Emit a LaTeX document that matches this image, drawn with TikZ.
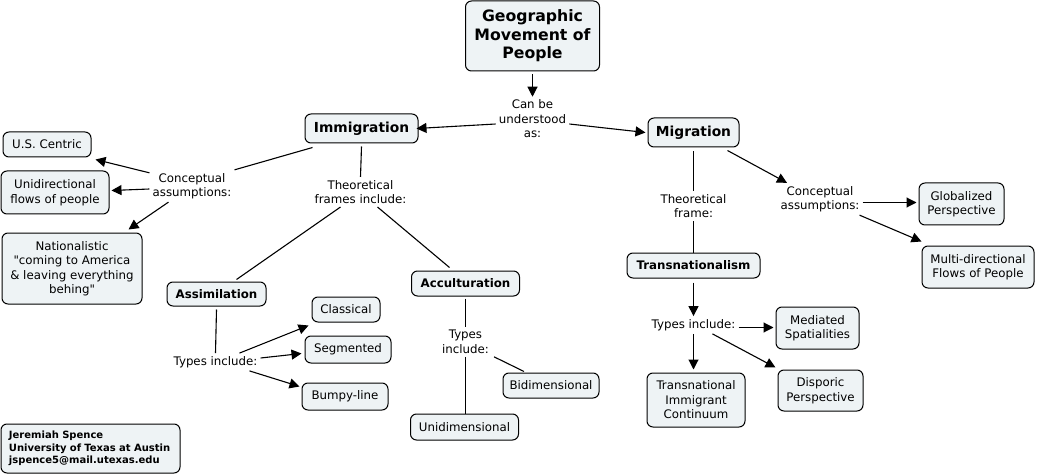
\documentclass[tikz,border=0pt]{standalone}
\usepackage{fontspec}
\setmainfont{DejaVu Sans}[Ligatures=TeXOff]
\usetikzlibrary{arrows.meta}
\definecolor{boxfill}{HTML}{EEF3F5}
\newcommand\fsn{\fontsize{11.8}{14.5}\selectfont}
\newcommand\fsbig{\bfseries\fontsize{15.7}{18.5}\selectfont}
\newcommand\fsmid{\bfseries\fontsize{13.8}{16}\selectfont}
\newcommand\fssub{\bfseries\fontsize{11.8}{14.5}\selectfont}
\newcommand\fsauth{\bfseries\fontsize{10}{12.7}\selectfont}
\begin{document}
\begin{tikzpicture}[x=1pt,y=-1pt,
  box/.style={draw=black, line width=1pt, fill=boxfill, rounded corners=6pt, align=center, inner sep=0pt, font=\fsn},
  lbl/.style={align=center, inner sep=3pt, font=\fsn},
  arr/.style={line width=1.1pt, -{Triangle[length=10pt,width=10pt]}},
  ln/.style={line width=1.1pt}]
\useasboundingbox (0,0) rectangle (1037,476);
\fill[white] (0,0) rectangle (1037,476);

% nodes
\node[box, font=\fsbig, minimum width=134pt, minimum height=70pt] (title) at (532.5,36) {Geographic\\Movement of\\People};
\node[lbl] (can) at (532.5,119) {Can be\\understood\\as:};
\node[box, font=\fsmid, minimum width=113pt, minimum height=29pt] (imm) at (361.5,128.5) {Immigration};
\node[box, font=\fsmid, minimum width=91pt, minimum height=29pt] (mig) at (693.5,132.5) {Migration};

\node[box, minimum width=88pt, minimum height=25pt] (usc) at (47,144.5) {U.S. Centric};
\node[box, minimum width=108pt, minimum height=43pt] (uni) at (55,192.5) {Unidirectional\\flows of people};
\node[box, minimum width=140pt, minimum height=71pt] (nat) at (72,268.5) {Nationalistic\\"coming to America\\\& leaving everything\\behing"};
\node[lbl] (concL) at (192,186) {Conceptual\\assumptions:};
\node[lbl] (theoL) at (360.5,192) {Theoretical\\frames include:};

\node[box, font=\fssub, minimum width=99pt, minimum height=24pt] (assim) at (216.5,294) {Assimilation};
\node[box, font=\fssub, minimum width=108pt, minimum height=25pt] (accul) at (465.5,283.5) {Acculturation};
\node[box, minimum width=68pt, minimum height=25pt] (class) at (346,309.5) {Classical};
\node[box, minimum width=86pt, minimum height=27pt] (seg) at (348,349.5) {Segmented};
\node[box, minimum width=86pt, minimum height=27pt] (bump) at (345,396.5) {Bumpy-line};
\node[lbl] (typesA) at (215.5,362) {Types include:};
\node[lbl] (typesB) at (465.5,342) {Types\\include:};
\node[box, minimum width=96pt, minimum height=25pt] (bidim) at (551,385.5) {Bidimensional};
\node[box, minimum width=108pt, minimum height=26pt] (unidim) at (464.5,427) {Unidimensional};

\node[box, font=\fsauth, align=left, minimum width=179pt, minimum height=49pt, text width=163pt] (author) at (90.5,448.5) {Jeremiah Spence\\University of Texas at Austin\\jspence5@mail.utexas.edu};

\node[lbl] (theoR) at (693.5,206) {Theoretical\\frame:};
\node[box, font=\fssub, minimum width=133pt, minimum height=25pt] (trans) at (693.5,265.5) {Transnationalism};
\node[lbl] (concR) at (820,199) {Conceptual\\assumptions:};
\node[box, minimum width=85pt, minimum height=42pt] (glob) at (961.5,204) {Globalized\\Perspective};
\node[box, minimum width=112pt, minimum height=42pt] (multi) at (978,267) {Multi-directional\\Flows of People};
\node[lbl] (typesR) at (693.5,325) {Types include:};
\node[box, minimum width=83pt, minimum height=42pt] (med) at (817.5,328) {Mediated\\Spatialities};
\node[box, minimum width=85pt, minimum height=41pt] (disp) at (820.5,390.5) {Disporic\\Perspective};
\node[box, minimum width=98pt, minimum height=54pt] (tic) at (696,400) {Transnational\\Immigrant\\Continuum};

% connectors
\draw[arr] ([yshift=-3pt]title.south) -- (can.north);
\draw[arr] ([yshift=-5pt]can.west) -- ([xshift=-2pt]imm.east);
\draw[arr] ([yshift=-5pt]can.east) -- ([xshift=-2pt]mig.west);

\draw[ln] ([xshift=8pt,yshift=-4pt]imm.south west) -- (concL.north east);
\draw[arr] ([yshift=-3pt]concL.north west) -- ([xshift=4pt,yshift=-2pt]usc.south east);
\draw[arr] ([yshift=-3pt]concL.west) -- ([xshift=2pt,yshift=2pt]uni.east);
\draw[arr] ([xshift=19pt]concL.south west) -- ([xshift=-14pt,yshift=3pt]nat.north east);

\draw[ln] ([yshift=-3pt]imm.south) -- (theoL.north);
\draw[ln] ([xshift=-20pt]theoL.south) -- ([xshift=20pt,yshift=2pt]assim.north);
\draw[ln] ([xshift=17pt]theoL.south) -- ([xshift=-16pt,yshift=3pt]accul.north);

\draw[ln] ([yshift=-3pt]assim.south) -- (typesA.north);
\draw[arr] ([xshift=24pt]typesA.north) -- ([xshift=-3pt,yshift=-3pt]class.south west);
\draw[arr] ([yshift=4pt]typesA.east) -- ([xshift=-3pt,yshift=-4pt]seg.west);
\draw[arr] ([xshift=34pt]typesA.south) -- ([xshift=-2pt,yshift=10pt]bump.west);

\draw[ln] ([yshift=-2pt]accul.south) -- (typesB.north);
\draw[ln] (typesB.south) -- (typesB.south |- unidim.north);
\draw[ln] ([xshift=2pt]typesB.south east) -- ([xshift=-27pt,yshift=1pt]bidim.north);

\draw[ln] ([yshift=-4pt]mig.south) -- (theoR.north);
\draw[ln] (theoR.south) -- (trans.north);
\draw[arr] ([xshift=-12pt,yshift=-3pt]mig.south east) -- ([xshift=-33pt]concR.north);
\draw[arr] ([yshift=-3.5pt]concR.east) -- ([xshift=-2pt,yshift=1.5pt]glob.west);
\draw[arr] ([xshift=-3pt]concR.south east) -- ([yshift=4pt]multi.north west);

\draw[arr] ([yshift=-4pt]trans.south) -- (typesR.north);
\draw[arr] ([yshift=-2.5pt]typesR.east) -- ([xshift=-2pt,yshift=0.5pt]med.west);
\draw[arr] ([xshift=19pt]typesR.south) -- ([xshift=-2pt,yshift=2pt]disp.north west);
\draw[arr] (typesR.south) -- ([yshift=3pt]typesR.south |- tic.north);
\end{tikzpicture}
\end{document}
